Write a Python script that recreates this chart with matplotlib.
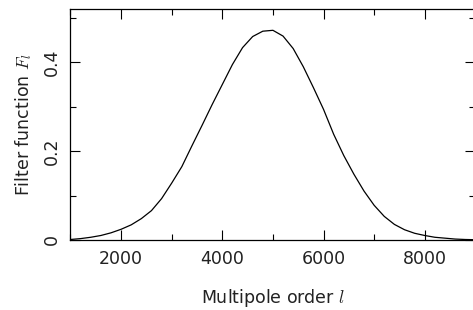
import numpy as np
import matplotlib
matplotlib.use("Agg")
import matplotlib.pyplot as plt
from matplotlib.ticker import MultipleLocator

# multipole order l and filter function F_l
ell = [1000, 1200, 1400, 1600, 1800, 2000, 2200, 2400, 2600, 2800, 3000,
       3200, 3400, 3600, 3800, 4000, 4200, 4400, 4600, 4800, 5000,
       5200, 5400, 5600, 5800, 6000, 6200, 6400, 6600, 6800, 7000,
       7200, 7400, 7600, 7800, 8000, 8200, 8400, 8600, 8800, 9000]
F_l = [0.001, 0.003, 0.006, 0.010, 0.016, 0.024, 0.034, 0.048, 0.066, 0.093, 0.128,
       0.165, 0.212, 0.258, 0.305, 0.350, 0.395, 0.433, 0.458, 0.470, 0.472,
       0.459, 0.431, 0.390, 0.343, 0.294, 0.238, 0.190, 0.148, 0.110, 0.078,
       0.053, 0.035, 0.023, 0.015, 0.010, 0.006, 0.004, 0.002, 0.001, 0.0005]

plt.rcParams['font.family'] = ['DejaVu Sans']
plt.rcParams['mathtext.fontset'] = 'cm'

fig = plt.figure(figsize=(4.73, 3.10), dpi=100)
ax = fig.add_axes([0.149, 0.226, 0.856, 0.745])

ax.plot(ell, F_l, color='black', lw=0.9)

ax.set_xlim(1000, 9000)
ax.set_ylim(0, 0.52)
ax.xaxis.set_major_locator(MultipleLocator(2000))
ax.xaxis.set_minor_locator(MultipleLocator(1000))
ax.yaxis.set_minor_locator(MultipleLocator(0.1))
ax.set_yticks([0, 0.2, 0.4])
ax.set_yticklabels(['0', '0.2', '0.4'], rotation=90, va='center')

ax.tick_params(which='both', direction='in', top=True, right=True, labelsize=12.5,
               width=0.8, labelcolor='#222222')
ax.tick_params(which='major', length=7, pad=7)
ax.tick_params(which='minor', length=4)
for s in ax.spines.values():
    s.set_linewidth(0.9)

ax.set_xlabel('Multipole order $l$', fontsize=12.5, labelpad=14, color='#222222')
ax.set_ylabel('Filter function $F_l$', fontsize=12.5, labelpad=6, color='#222222')

fig.savefig('out.png', dpi=100)
